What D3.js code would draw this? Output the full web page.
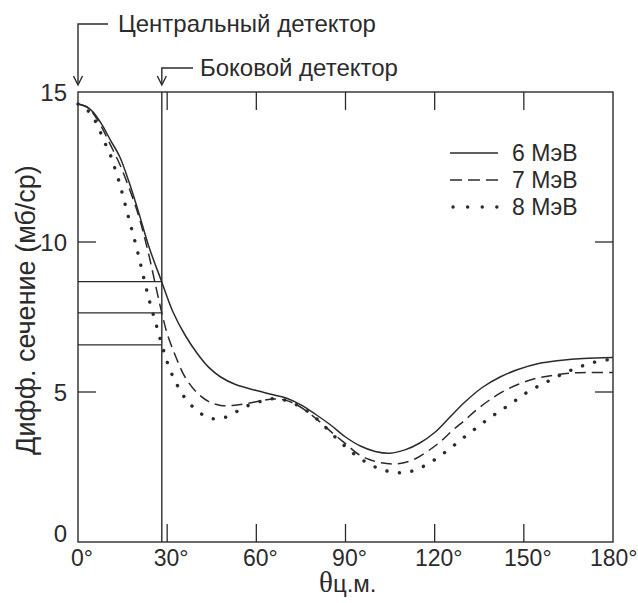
<!DOCTYPE html>
<html>
<head>
<meta charset="utf-8">
<script src="https://cdn.jsdelivr.net/npm/d3@7/dist/d3.min.js"></script>
<style>
  html, body { margin: 0; padding: 0; background: #fff; }
  svg { display: block; }
  text { font-family: "Liberation Sans", Arial, sans-serif; fill: #2b2b2b; }
</style>
</head>
<body>
<svg id="chart" width="638" height="603"></svg>
<script>
// Angular distributions of the differential cross section (centre-of-mass frame)
const angles6 = [0, 3, 5, 8, 11, 14, 17, 20, 24, 28, 32, 36, 40, 44, 48, 53, 60, 66, 70, 75, 80, 85, 90, 95, 100, 105, 110, 115, 120, 125, 130, 136, 142, 148, 155, 162, 170, 180];
const sigma6  = [14.6, 14.5, 14.34, 13.92, 13.38, 12.85, 12.05, 11.12, 9.8, 8.72, 7.66, 6.9, 6.3, 5.82, 5.5, 5.25, 5.05, 4.9, 4.8, 4.57, 4.25, 3.9, 3.5, 3.2, 3.02, 2.96, 3.07, 3.3, 3.65, 4.15, 4.65, 5.15, 5.5, 5.75, 5.95, 6.05, 6.12, 6.15];

const angles7 = [0, 3, 5, 8, 11, 14, 17, 20, 22, 24, 26, 28, 30, 33, 36, 40, 44, 48, 52, 57, 62, 66, 70, 74, 78, 82, 86, 90, 94, 98, 102, 106, 110, 114, 118, 122, 126, 130, 134, 138, 142, 148, 154, 160, 166, 172, 180];
const sigma7  = [14.6, 14.5, 14.3, 13.82, 13.22, 12.6, 11.85, 11.0, 10.3, 9.5, 8.6, 7.72, 6.95, 6.15, 5.5, 4.98, 4.68, 4.55, 4.55, 4.62, 4.72, 4.77, 4.72, 4.55, 4.28, 3.95, 3.6, 3.28, 2.95, 2.75, 2.64, 2.6, 2.65, 2.8, 3.05, 3.35, 3.72, 4.05, 4.4, 4.7, 4.96, 5.25, 5.45, 5.56, 5.63, 5.65, 5.65];

const angles8 = [0, 2, 4.6, 6.8, 8.5, 10.5, 12, 14, 16, 18, 20, 22, 24, 26, 28, 30, 32, 34, 36, 38.5, 42, 46, 50, 54, 58, 62, 66, 70, 74, 78, 82, 86, 90, 94, 98, 102, 106, 110, 114, 118, 122, 126, 130, 134, 138, 142, 146, 150, 154, 158, 162, 166, 170, 174, 180];
const sigma8  = [14.6, 14.5, 14.23, 13.84, 13.42, 13.0, 12.58, 11.95, 11.2, 10.45, 9.7, 8.85, 8.05, 7.35, 6.65, 6.0, 5.5, 5.12, 4.8, 4.52, 4.24, 4.1, 4.17, 4.38, 4.58, 4.7, 4.78, 4.72, 4.55, 4.3, 3.95, 3.55, 3.18, 2.85, 2.6, 2.42, 2.33, 2.31, 2.42, 2.62, 2.88, 3.18, 3.5, 3.8, 4.1, 4.37, 4.63, 4.92, 5.15, 5.35, 5.55, 5.73, 5.88, 6.0, 6.1];

const seriesNames = ["6 МэВ", "7 МэВ", "8 МэВ"];

const detectorCentral = 0;
const detectorSide = 28.2;
const sideReadings = [8.68, 7.64, 6.57];

const xTicks = [0, 30, 60, 90, 120, 150, 180];
const yTicks = [0, 5, 10, 15];

const ink = "#2b2b2b";
const width = 638;
const svg = d3.select("#chart");

const x = d3.scaleLinear().domain([0, 180]).range([78, 613]);
const y = d3.scaleLinear().domain([0, 15]).range([542, 92]);

const plotLeft = x(0), plotRight = x(180), plotTop = y(15), plotBottom = y(0);

// frame
svg.append("rect")
  .attr("x", plotLeft).attr("y", plotTop)
  .attr("width", plotRight - plotLeft).attr("height", plotBottom - plotTop)
  .attr("fill", "none").attr("stroke", ink).attr("stroke-width", 1.4);

// inward ticks on all four sides
const tickLen = 18;
const innerX = xTicks.filter(d => d > 0 && d < 180);
const innerY = yTicks.filter(d => d > 0 && d < 15);
const tickG = svg.append("g").attr("stroke", ink).attr("stroke-width", 1.3);
innerX.forEach(d => {
  tickG.append("line").attr("x1", x(d)).attr("x2", x(d)).attr("y1", plotBottom).attr("y2", plotBottom - tickLen);
  tickG.append("line").attr("x1", x(d)).attr("x2", x(d)).attr("y1", plotTop).attr("y2", plotTop + tickLen);
});
innerY.forEach(d => {
  tickG.append("line").attr("x1", plotLeft).attr("x2", plotLeft + tickLen).attr("y1", y(d)).attr("y2", y(d));
  tickG.append("line").attr("x1", plotRight).attr("x2", plotRight - tickLen).attr("y1", y(d)).attr("y2", y(d));
});

// tick labels; the last one is kept inside the page edge
svg.append("g").selectAll("text").data(xTicks).join("text")
  .attr("y", plotBottom + 24)
  .attr("text-anchor", "middle").attr("font-size", 23)
  .text(d => d + "°")
  .attr("x", function (d) {
    const half = this.getComputedTextLength() / 2;
    return Math.min(x(d) + 4, width - half - 0.5);
  });

svg.append("g").selectAll("text").data(yTicks).join("text")
  .attr("x", plotLeft - 11).attr("y", d => y(d) + (d === 0 ? 0 : 9))
  .attr("text-anchor", "end").attr("font-size", 24)
  .text(d => d);

// axis titles
const xTitle = svg.append("text")
  .attr("x", 319).attr("y", 592);
xTitle.append("tspan")
  .attr("font-family", "'Liberation Serif', 'Times New Roman', serif")
  .attr("font-size", 29).text("θ");
xTitle.append("tspan").attr("font-size", 24).text("ц.м.");

svg.append("text")
  .attr("transform", `translate(35, ${(plotTop + plotBottom) / 2 - 7}) rotate(-90)`)
  .attr("text-anchor", "middle").attr("font-size", 27)
  .text("Дифф. сечение (мб/ср)");

// side detector line and read-offs
svg.append("line")
  .attr("x1", x(detectorSide)).attr("x2", x(detectorSide))
  .attr("y1", plotTop).attr("y2", plotBottom)
  .attr("stroke", ink).attr("stroke-width", 1.4);
svg.append("g").selectAll("line").data(sideReadings).join("line")
  .attr("x1", plotLeft).attr("x2", x(detectorSide))
  .attr("y1", d => y(d)).attr("y2", d => y(d))
  .attr("stroke", ink).attr("stroke-width", 1.3);

// curves
const line = d3.line()
  .x(d => x(d[0])).y(d => y(d[1]))
  .curve(d3.curveCatmullRom.alpha(0.5));

const styles = [
  { dash: null, width: 1.5, cap: "butt" },
  { dash: "11 6", width: 1.5, cap: "butt" },
  { dash: "0.1 12.5", width: 3.4, cap: "round" }
];
const data = [
  d3.zip(angles6, sigma6),
  d3.zip(angles7, sigma7),
  d3.zip(angles8, sigma8)
];

const plot = svg.append("g");
data.forEach((pts, i) => {
  plot.append("path")
    .datum(pts)
    .attr("d", line)
    .attr("fill", "none")
    .attr("stroke", ink)
    .attr("stroke-width", styles[i].width)
    .attr("stroke-linecap", styles[i].cap)
    .attr("stroke-dasharray", styles[i].dash);
});

// legend
const legend = svg.append("g");
seriesNames.forEach((name, i) => {
  const ly = 153 + i * 27;
  legend.append("line")
    .attr("x1", i === 2 ? 453 : 450).attr("x2", 498)
    .attr("y1", ly).attr("y2", ly)
    .attr("stroke", ink)
    .attr("stroke-width", styles[i].width)
    .attr("stroke-linecap", styles[i].cap)
    .attr("stroke-dasharray", styles[i].dash === "11 6" ? "12 6" : (styles[i].dash ? "0.1 14.5" : null));
  legend.append("text")
    .attr("x", 512).attr("y", ly + 8)
    .attr("font-size", 23)
    .text(name);
});

// detector annotations with arrows pointing at their angles
function arrow(xTip, yElbow, xEnd, label, textX) {
  const g = svg.append("g").attr("fill", "none").attr("stroke", ink).attr("stroke-width", 1.4);
  g.append("path").attr("d", `M${xEnd},${yElbow}H${xTip}V${plotTop - 8}`);
  g.append("path").attr("d", `M${xTip - 4.5},${plotTop - 16}L${xTip},${plotTop - 7}L${xTip + 4.5},${plotTop - 16}`);
  svg.append("text").attr("x", textX).attr("y", yElbow + 8).attr("font-size", 24).text(label);
}
arrow(x(detectorCentral), 24, 108, "Центральный детектор", 118);
arrow(x(detectorSide), 68, 193, "Боковой детектор", 200);
</script>
</body>
</html>
